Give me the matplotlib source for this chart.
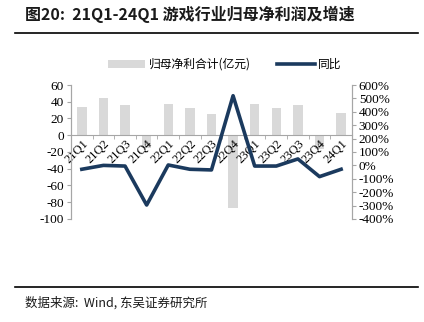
import matplotlib.pyplot as plt
from matplotlib.lines import Line2D
from matplotlib.patches import Patch

quarters = ["21Q1", "21Q2", "21Q3", "21Q4", "22Q1", "22Q2", "22Q3",
            "22Q4", "23Q1", "23Q2", "23Q3", "23Q4", "24Q1"]
net_profit = [34, 44, 36, -15, 37, 33, 25, -87, 37, 33, 36, -16, 27]
yoy_pct = [-29, 0, -5, -296, 3, -29, -34, 520, -5, -5, 48, -84, -29]

left_ticks = [60, 40, 20, 0, -20, -40, -60, -80, -100]
right_ticks = [600, 500, 400, 300, 200, 100, 0, -100, -200, -300, -400]

BAR_COLOR = "#D9D9D9"
LINE_COLOR = "#1B3A5E"
SPINE_COLOR = "#A6A6A6"
SERIF = ["Liberation Serif", "Noto Sans CJK SC"]
CJK = ["Noto Sans CJK SC", "DejaVu Sans"]


def main():
    fig = plt.figure(figsize=(4.24, 3.22), dpi=100)
    ax = fig.add_axes([0.1675, 0.32, 0.6625, 0.416])
    ax2 = ax.twinx()

    x = list(range(len(quarters)))
    ax.bar(x, net_profit, width=0.44, color=BAR_COLOR, zorder=1)
    ax2.plot(x, yoy_pct, color=LINE_COLOR, linewidth=2.6, zorder=3)

    ax.set_xlim(-0.5, len(quarters) - 0.5)
    ax.set_ylim(-100, 60)
    ax2.set_ylim(-400, 600)

    # spines first, labels after
    for a in (ax, ax2):
        a.spines["top"].set_visible(False)
        a.spines["left"].set_color(SPINE_COLOR)
        a.spines["right"].set_color(SPINE_COLOR)
        a.spines["bottom"].set_color(SPINE_COLOR)
    ax.spines["bottom"].set_position(("data", 0))
    ax2.spines["bottom"].set_visible(False)
    ax.set_zorder(ax2.get_zorder() - 1)
    ax.patch.set_visible(False)

    ax.tick_params(axis="x", which="major", length=0, pad=2)
    ax.tick_params(axis="x", which="minor", length=3, color=SPINE_COLOR, direction="out")
    ax.tick_params(axis="y", length=3, color=SPINE_COLOR, pad=2)
    ax2.tick_params(axis="y", length=3, color=SPINE_COLOR, pad=2)

    ax.set_yticks(left_ticks)
    ax.set_yticklabels([str(v) for v in left_ticks], family=SERIF, fontsize=9.5)
    ax2.set_yticks(right_ticks)
    ax2.set_yticklabels([f"{v}%" for v in right_ticks], family=SERIF, fontsize=9.5)

    ax.set_xticks(x)
    ax.set_xticks([i - 0.5 for i in x] + [len(quarters) - 0.5], minor=True)
    ax.set_xticklabels(quarters, family=SERIF, fontsize=9)
    for lbl in ax.get_xticklabels():
        lbl.set_rotation(45)
        lbl.set_ha("right")
        lbl.set_va("top")
        lbl.set_rotation_mode("anchor")

    handles = [
        Patch(facecolor=BAR_COLOR, edgecolor="none", label="归母净利合计(亿元)"),
        Line2D([0], [0], color=LINE_COLOR, linewidth=2.6, label="同比"),
    ]
    fig.legend(handles=handles, loc="center", bbox_to_anchor=(0.53, 0.80), ncol=2,
               frameon=False, prop={"family": CJK, "size": 8.5},
               handlelength=3.2, columnspacing=2.2, handletextpad=0.3)

    fig.text(0.06, 0.955, "图20:  21Q1-24Q1 游戏行业归母净利润及增速",
             family=CJK, fontsize=11.5, fontweight="bold", color="#1a1a1a", va="center")
    fig.add_artist(Line2D([0.035, 0.985], [0.897, 0.897], color="black", linewidth=1.2))
    fig.add_artist(Line2D([0.035, 0.985], [0.108, 0.108], color="black", linewidth=1.2))
    fig.text(0.06, 0.058, "数据来源:  Wind, 东吴证券研究所",
             family=CJK, fontsize=9, color="#1a1a1a", va="center")

    fig.savefig("out.png", dpi=100)


if __name__ == "__main__":
    main()
